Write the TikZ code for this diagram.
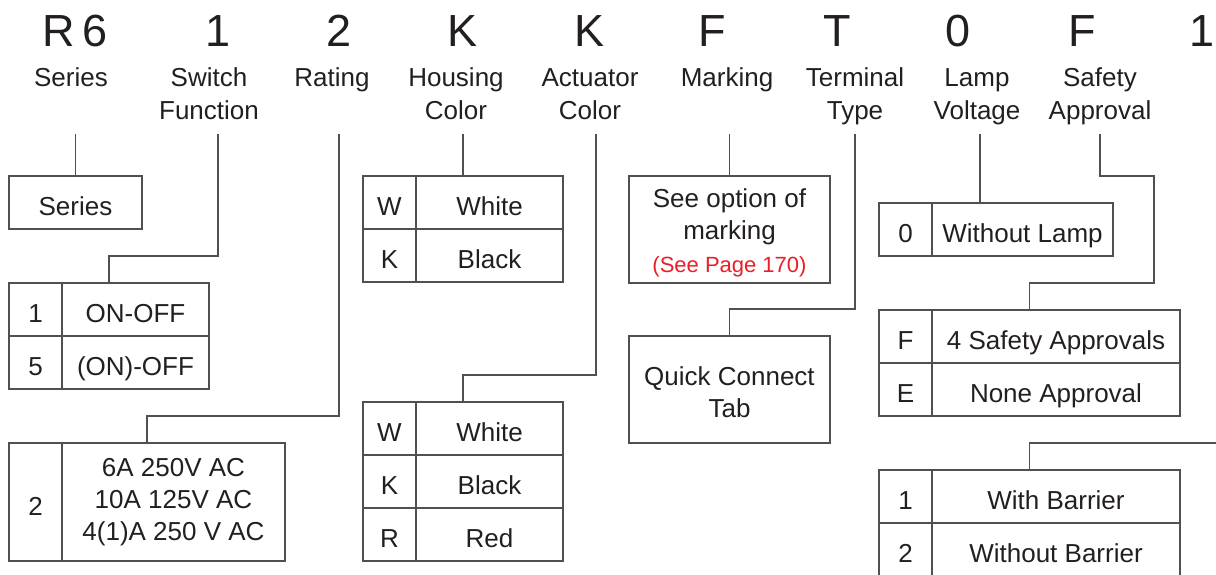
\documentclass[tikz,border=0pt]{standalone}
\usepackage{fontspec}
\setmainfont{Liberation Sans}
\usetikzlibrary{positioning,calc}

\definecolor{inkgray}{RGB}{35,31,32}
\definecolor{linegray}{RGB}{80,80,80}
\definecolor{pagered}{RGB}{232,30,40}

\tikzset{
  code/.style={font=\fontsize{45}{45}\selectfont, text=inkgray, anchor=base, inner sep=0pt},
  caption/.style={font=\fontsize{26}{33}\selectfont, text=inkgray, align=center, anchor=base, inner sep=0pt},
  cellbox/.style={draw=linegray, line width=1.3pt, inner sep=0pt, outer sep=0pt, minimum height=53pt,
    font=\fontsize{26}{32}\selectfont, text=inkgray, align=center},
  cell/.style={cellbox, text height=26pt, text depth=0pt},
  keycell/.style={cell, minimum width=53pt, anchor=north west},
  boxtext/.style={font=\fontsize{26}{32}\selectfont, text=inkgray, align=center, inner sep=0pt},
  link/.style={draw=linegray, line width=1.3pt},
}

\begin{document}
\begin{tikzpicture}[x=1pt,y=-1pt]
    \useasboundingbox (0,0) rectangle (1216,575);

    \node[code] (cSeries) at (75,47) {R\,6};
    \node[code] (cSwitch) at (218,47) {1};
    \node[code] (cRating) at (339,47) {2};
    \node[code] (cHousing) at (463,47) {K};
    \node[code] (cActuator) at (590,47) {K};
    \node[code] (cMarking) at (712,47) {F};
    \node[code] (cTerminal) at (837,47) {T};
    \node[code] (cLamp) at (958,47) {0};
    \node[code] (cSafety) at (1082,47) {F};
    \node[code] (cBarrier) at (1202,47) {1};

    \node[caption] (lSeries) at (71,87) {Series};
    \node[caption] (lSwitch) at (209,120) {Switch\\Function};
    \node[caption] (lRating) at (332,87) {Rating};
    \node[caption] (lHousing) at (456,120) {Housing\\Color};
    \node[caption] (lActuator) at (590,120) {Actuator\\Color};
    \node[caption] (lMarking) at (727,87) {Marking};
    \node[caption] (lTerminal) at (855,120) {Terminal\\Type};
    \node[caption] (lLamp) at (977,120) {Lamp\\Voltage};
    \node[caption] (lSafety) at (1100,120) {Safety\\Approval};

    \coordinate (tSeries) at (75.5,134);
    \coordinate (tSwitch) at (218,134);
    \coordinate (tRating) at (339,134);
    \coordinate (tHousing) at (463,134);
    \coordinate (tActuator) at (596,134);
    \coordinate (tMarking) at (729.5,134);
    \coordinate (tTerminal) at (855,134);
    \coordinate (tLamp) at (980,134);
    \coordinate (tSafety) at (1100,134);
    \coordinate (tBarrier) at (1220,443);

    % series
    \node[cell, minimum width=133pt, anchor=north west] (series) at (9,176) {Series};

    % switch function
    \node[keycell] (sw1) at (9,283) {1};
    \node[cell, minimum width=147pt, right=0pt of sw1] (swOn) {ON-OFF};
    \node[keycell, below=0pt of sw1] (sw5) {5};
    \node[cell, minimum width=147pt, right=0pt of sw5] (swMom) {(ON)-OFF};

    % rating
    \node[keycell, minimum height=118pt] (rt2) at (9,443) {2};
    \node[cellbox, minimum width=223pt, minimum height=118pt, right=0pt of rt2] (rtVal)
      {6A 250V AC\\10A 125V AC\\4(1)A 250 V AC};

    % housing color
    \node[keycell] (hsW) at (363,176) {W};
    \node[cell, minimum width=147pt, right=0pt of hsW] (hsWhite) {White};
    \node[keycell, below=0pt of hsW] (hsK) {K};
    \node[cell, minimum width=147pt, right=0pt of hsK] (hsBlack) {Black};

    % actuator color
    \node[keycell] (acW) at (363,402) {W};
    \node[cell, minimum width=147pt, right=0pt of acW] (acWhite) {White};
    \node[keycell, below=0pt of acW] (acK) {K};
    \node[cell, minimum width=147pt, right=0pt of acK] (acBlack) {Black};
    \node[keycell, below=0pt of acK] (acR) {R};
    \node[cell, minimum width=147pt, right=0pt of acR] (acRed) {Red};

    % marking, terminal
    \node[cellbox, minimum width=201pt, minimum height=107pt, anchor=north west] (mark) at (629,176) {};
    \node[boxtext] (markText) at ([yshift=-3pt]mark.center)
      {See option of\\marking\\[1pt]{\color{pagered}\fontsize{22}{26}\selectfont (See Page 170)}};
    \node[cellbox, minimum width=201pt, minimum height=107pt, anchor=north west] (term) at (629,336) {};
    \node[boxtext] (termText) at ([yshift=-3pt]term.center) {Quick Connect\\Tab};

    % lamp voltage
    \node[keycell] (lp0) at (879,203) {0};
    \node[cell, minimum width=181pt, right=0pt of lp0] (lpNone) {Without Lamp};

    % safety approval
    \node[keycell] (saF) at (879,310) {F};
    \node[cell, minimum width=248pt, right=0pt of saF] (saFour) {4 Safety Approvals};
    \node[keycell, below=0pt of saF] (saE) {E};
    \node[cell, minimum width=248pt, right=0pt of saE] (saNone) {None Approval};

    % barrier
    \node[keycell] (ba1) at (879,470) {1};
    \node[cell, minimum width=248pt, right=0pt of ba1] (baWith) {With Barrier};
    \node[keycell, below=0pt of ba1] (ba2) {2};
    \node[cell, minimum width=248pt, right=0pt of ba2] (baWithout) {Without Barrier};

    \coordinate (swTop) at ($(sw1.north west)!.5!(swOn.north east)$);
    \coordinate (rtTop) at ($(rt2.north west)!.5!(rtVal.north east)$);
    \coordinate (hsTop) at ($(hsW.north west)!.5!(hsWhite.north east)$);
    \coordinate (acTop) at ($(acW.north west)!.5!(acWhite.north east)$);
    \coordinate (saTop) at ($(saF.north west)!.5!(saFour.north east)$);
    \coordinate (baTop) at ($(ba1.north west)!.5!(baWith.north east)$);

    \draw[link] (tSeries) -- (series.north);
    \draw[link] (tSwitch) -- ++(0,122) -| (swTop);
    \draw[link] (tRating) -- ++(0,282) -| (rtTop);
    \draw[link] (tHousing) -- (hsTop);
    \draw[link] (tActuator) -- ++(0,241) -| (acTop);
    \draw[link] (tMarking) -- (mark.north);
    \draw[link] (tTerminal) -- ++(0,175) -| (term.north);
    \draw[link] (tLamp) -- (tLamp |- lp0.north);
    \draw[link] (tSafety) -- ++(0,42) -| ++(54,107) -| (saTop);
    \draw[link] (tBarrier) -| (baTop);
\end{tikzpicture}
\end{document}
